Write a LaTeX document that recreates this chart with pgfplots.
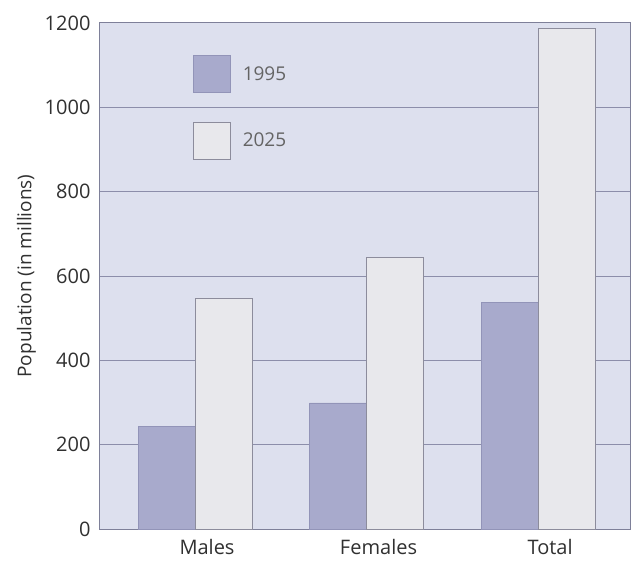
\documentclass[border=0pt]{standalone}
\usepackage{fontspec}
\setmainfont{Open Sans}
\usepackage{pgfplots}
\pgfplotsset{compat=1.18}
\definecolor{bgcol}{HTML}{DDE0EE}
\definecolor{gridcol}{HTML}{8C8EAA}
\definecolor{oldcol}{HTML}{A8AACC}
\definecolor{oldedge}{HTML}{9294B8}
\definecolor{newcol}{HTML}{E8E8EC}
\definecolor{newedge}{HTML}{8C8C9C}
\definecolor{txt}{HTML}{303030}
\begin{document}
\begin{tikzpicture}
\begin{axis}[
    at={(0,0)}, anchor=south west,
    scale only axis,
    width=530pt, height=506pt,
    ybar=0pt, bar width=57pt,
    xmin=-0.554, xmax=2.536,
    ymin=0, ymax=1200,
    xtick={0,1,2},
    xticklabels={Males, Females, Total},
    ytick={0,200,...,1200},
    major tick length=0pt,
    ymajorgrids,
    grid style={gridcol, line width=1pt},
    axis background/.style={fill=bgcol},
    axis line style={gridcol!90!black, line width=1pt},
    /pgf/number format/assume math mode=true,
    /pgf/number format/1000 sep={},
    tick label style={font=\fontsize{20}{24}\selectfont, text=txt},
    xticklabel style={xshift=12pt, yshift=-7pt},
    yticklabel style={xshift=-6pt},
    ylabel={Population (in millions)},
    ylabel style={font=\fontsize{19}{22}\selectfont, text=txt, yshift=2pt},
    legend style={draw=none, fill=none, at={(0.175,0.937)}, anchor=north west,
        inner sep=0pt, row sep=29pt,
        font=\fontsize{19}{22}\selectfont, text=txt!75!white},
    legend cell align=left,
    legend image code/.code={\draw[#1] (0pt,-18.5pt) rectangle (37pt,18.5pt);
        \path (47pt,0pt);},
]
\addplot[fill=oldcol, draw=oldedge, line width=0.8pt] coordinates {(0,244) (1,299) (2,538)};
\addplot[fill=newcol, draw=newedge, line width=0.8pt] coordinates {(0,548) (1,643) (2,1188)};
\legend{1995, 2025}
\end{axis}
\pgfresetboundingbox
\path (-100pt,-34pt) rectangle (540pt,529pt);
\end{tikzpicture}
\end{document}
